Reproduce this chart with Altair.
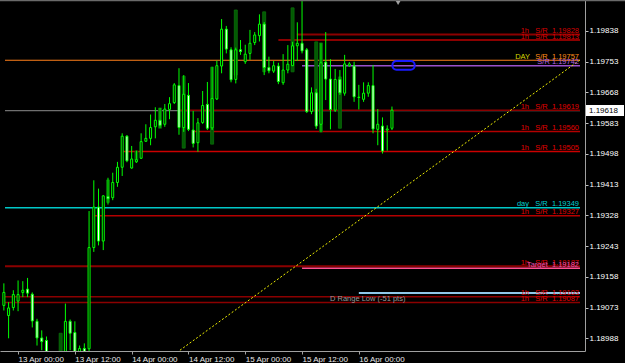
import altair as alt
import pandas as pd

# ---- scale extents (hours since 13 Apr 00:00, price) ----
X_MIN, X_MAX = -2.762, 118.73
Y_MIN, Y_MAX = 1.189529, 1.199237

# ---- hourly candles ----
hours = [-3, -2, -1, 0, 1, 2, 3, 4, 5, 6,
         10, 11, 12, 13, 14, 15, 16, 17, 18, 19,
         20, 21, 22, 23, 24, 25, 26, 27, 28, 29,
         30, 31, 32, 33, 34, 35, 36, 37, 38, 39,
         40, 41, 42, 43, 44, 45, 46, 47, 48, 49,
         50, 51, 52, 53, 54, 55, 56, 57, 58, 59,
         60, 61, 62, 63, 64, 65, 66, 67, 68, 69,
         70, 71, 72, 73, 74, 75, 76, 77, 78, 79]
opens = [1.19079, 1.19051, 1.19073, 1.19091, 1.19115, 1.19124, 1.19110, 1.19035, 1.18989, 1.18982,
         1.18913, 1.19035, 1.19004, 1.18949, 1.18960, 1.18959, 1.19239, 1.19351, 1.19257, 1.19380,
         1.19377, 1.19419, 1.19461, 1.19547, 1.19459, 1.19476, 1.19486, 1.19533, 1.19541, 1.19573,
         1.19591, 1.19580, 1.19621, 1.19640, 1.19687, 1.19571, 1.19660, 1.19564, 1.19529, 1.19585,
         1.19635, 1.19570, 1.19650, 1.19741, 1.19843, 1.19786, 1.19704, 1.19786, 1.19753, 1.19776,
         1.19806, 1.19825, 1.19857, 1.19737, 1.19727, 1.19741, 1.19695, 1.19730, 1.19742, 1.19797,
         1.19804, 1.19786, 1.19615, 1.19667, 1.19580, 1.19752, 1.19705, 1.19619, 1.19704, 1.19666,
         1.19742, 1.19741, 1.19655, 1.19649, 1.19666, 1.19687, 1.19566, 1.19575, 1.19564, 1.19569]
highs = [1.19140, 1.19088, 1.19121, 1.19148, 1.19146, 1.19155, 1.19115, 1.19042, 1.19010, 1.18993,
         1.19084, 1.19040, 1.19035, 1.18968, 1.18974, 1.19340, 1.19425, 1.19402, 1.19384, 1.19432,
         1.19446, 1.19476, 1.19555, 1.19550, 1.19520, 1.19507, 1.19555, 1.19580, 1.19607, 1.19627,
         1.19625, 1.19636, 1.19655, 1.19694, 1.19735, 1.19716, 1.19694, 1.19617, 1.19597, 1.19672,
         1.19697, 1.19739, 1.19756, 1.19871, 1.19852, 1.19793, 1.19792, 1.19813, 1.19800, 1.19841,
         1.19835, 1.19884, 1.19863, 1.19767, 1.19755, 1.19750, 1.19774, 1.19799, 1.19808, 1.19862,
         1.19921, 1.19791, 1.19682, 1.19678, 1.19804, 1.19835, 1.19760, 1.19733, 1.19730, 1.19772,
         1.19752, 1.19753, 1.19689, 1.19696, 1.19696, 1.19744, 1.19622, 1.19599, 1.19577, 1.19629]
lows = [1.19065, 1.18988, 1.19065, 1.19063, 1.19102, 1.19102, 1.19018, 1.18968, 1.18955, 1.18899,
        1.18899, 1.18955, 1.18913, 1.18927, 1.18927, 1.18949, 1.19227, 1.19245, 1.19232, 1.19358,
        1.19370, 1.19407, 1.19437, 1.19475, 1.19457, 1.19473, 1.19484, 1.19531, 1.19522, 1.19541,
        1.19570, 1.19573, 1.19594, 1.19636, 1.19551, 1.19559, 1.19561, 1.19516, 1.19504, 1.19581,
        1.19564, 1.19564, 1.19647, 1.19721, 1.19776, 1.19696, 1.19693, 1.19772, 1.19747, 1.19758,
        1.19799, 1.19809, 1.19716, 1.19721, 1.19722, 1.19691, 1.19689, 1.19721, 1.19741, 1.19755,
        1.19776, 1.19611, 1.19608, 1.19567, 1.19558, 1.19647, 1.19566, 1.19614, 1.19661, 1.19659,
        1.19739, 1.19642, 1.19621, 1.19642, 1.19656, 1.19555, 1.19522, 1.19499, 1.19507, 1.19564]
closes = [1.19115, 1.19072, 1.19109, 1.19109, 1.19121, 1.19113, 1.19036, 1.18989, 1.18979, 1.18927,
          1.19035, 1.19002, 1.18927, 1.18960, 1.18938, 1.19239, 1.19351, 1.19257, 1.19382, 1.19374,
          1.19419, 1.19461, 1.19547, 1.19479, 1.19484, 1.19482, 1.19532, 1.19541, 1.19571, 1.19591,
          1.19577, 1.19622, 1.19637, 1.19689, 1.19571, 1.19663, 1.19566, 1.19527, 1.19584, 1.19632,
          1.19569, 1.19651, 1.19742, 1.19843, 1.19788, 1.19703, 1.19786, 1.19781, 1.19774, 1.19804,
          1.19827, 1.19857, 1.19737, 1.19728, 1.19742, 1.19698, 1.19730, 1.19746, 1.19797, 1.19804,
          1.19783, 1.19615, 1.19667, 1.19575, 1.19750, 1.19705, 1.19621, 1.19704, 1.19667, 1.19747,
          1.19747, 1.19656, 1.19654, 1.19666, 1.19687, 1.19567, 1.19580, 1.19506, 1.19567, 1.19619]

# ---- dark (background) candles ----
dark_hours = [9, 19, 25, 30, 35, 41, 46, 52, 58, 63, 64, 68]
dark_tops = [1.19002, 1.19426, 1.19506, 1.19625, 1.19713, 1.19738, 1.19896, 1.19891, 1.19902, 1.19808, 1.19805, 1.19711]
dark_bottoms = [1.18952, 1.19364, 1.19481, 1.19569, 1.19514, 1.19525, 1.19716, 1.19725, 1.19725, 1.19619, 1.19559, 1.19569]

# ---- horizontal levels ----
level_prices = [1.19828, 1.19813, 1.19757, 1.19742, 1.19618, 1.19619, 1.19560, 1.19505,
                1.19349, 1.19327, 1.19187, 1.19182, 1.19113, 1.19103, 1.19087]
level_starts = [58.9, 55.0, X_MIN, 60.0, X_MIN, 34.0, 37.0, 22.2,
                X_MIN, 15.9, X_MIN, 60.0, 72.0, X_MIN, X_MIN]
level_colors = ['#8b0000', '#8b0000', '#ff7f1a', '#9a50cc', '#707070', '#8b0000', '#b40000', '#cc0000',
                '#00c8c8', '#b40000', '#8b0000', '#ff4f8f', '#8fc8ea', '#8b0000', '#8b0000']
level_widths = [2, 2, 1.2, 1.5, 1.2, 1.5, 1.5, 1.5, 1.5, 1.5, 2, 1.5, 2, 1.5, 1.5]

NB = '\u00a0'
label_prices = [1.19828, 1.19813, 1.19757, 1.19742, 1.19619, 1.19560, 1.19505,
                1.19349, 1.19327, 1.19187, 1.19182, 1.19103, 1.19087]
label_texts = ['1h' + NB * 3 + 'S/R' + NB * 2 + '1.19828',
               '1h' + NB * 3 + 'S/R' + NB * 2 + '1.19813',
               'S/R' + NB * 2 + '1.19757',
               'S/R' + NB + '1.19742',
               '1h' + NB * 3 + 'S/R' + NB * 2 + '1.19619',
               '1h' + NB * 3 + 'S/R' + NB * 2 + '1.19560',
               '1h' + NB * 3 + 'S/R' + NB * 2 + '1.19505',
               'day' + NB * 3 + 'S/R' + NB * 2 + '1.19349',
               '1h' + NB * 3 + 'S/R' + NB * 2 + '1.19327',
               '1h' + NB * 3 + 'S/R' + NB * 2 + '1.19187',
               'Target' + NB * 2 + '1.19182',
               '1h' + NB * 3 + 'S/R' + NB * 2 + '1.19103',
               '1h' + NB * 3 + 'S/R' + NB * 2 + '1.19087']
label_colors = ['#d80000', '#d80000', '#ff8c1a', '#b060e0', '#e00000', '#e00000', '#e00000',
                '#00d0d0', '#e00000', '#e00000', '#e050b0', '#e00000', '#e00000']
day_word = 'DAY'
day_price = 1.19757

range_text = 'D Range Low (-51 pts)'
range_hour = 65.9
range_price = 1.19113

# trend line (two anchor points)
trend_hours = [34.2, X_MAX]
trend_prices = [1.18955, 1.19758]

# blue ellipse object
blue_hours = [79.1, 83.8]
blue_prices = [1.19755, 1.19731]

bid_price = 1.19618
bid_text = '1.19618'
shift_hour = 80.3

tick_hours = [0, 12, 24, 36, 48, 60, 72]
tick_labels = ['13 Apr 00:00', '13 Apr 12:00', '14 Apr 00:00', '14 Apr 12:00',
               '15 Apr 00:00', '15 Apr 12:00', '16 Apr 00:00']
price_ticks = [1.19838, 1.19753, 1.19668, 1.19583, 1.19498, 1.19413, 1.19328,
               1.19243, 1.19158, 1.19073, 1.18988]

# ---------------------------------------------------------------
FONT = 'Liberation Sans'
xs = alt.Scale(domain=[X_MIN, X_MAX], nice=False, zero=False)
ys = alt.Scale(domain=[Y_MIN, Y_MAX], nice=False, zero=False)

label_expr = ('[' + ','.join("'%s'" % t for t in tick_labels) + '][indexof(['
              + ','.join(str(h) for h in tick_hours) + '], datum.value)]')

x_axis = alt.Axis(values=tick_hours, labelExpr=label_expr, title=None, orient='bottom',
                  domainColor='#a0a0a0', tickColor='#a0a0a0', tickSize=3,
                  labelColor='#e8e8e8', labelFont=FONT, labelFontSize=8,
                  labelAlign='left', labelBaseline='top', labelPadding=1,
                  labelFlush=False, labelOverlap=False, grid=False)
y_axis = alt.Axis(orient='right', values=price_ticks, format='.5f', title=None,
                  domainColor='#a0a0a0', tickColor='#c0c0c0', tickSize=3,
                  labelColor='#ffffff', labelFont=FONT, labelFontSize=8,
                  labelPadding=1, labelBaseline='middle', labelFlush=False,
                  labelOverlap=False, grid=False)


def X(field):
    return alt.X(field, scale=xs, axis=x_axis)


def Y(field):
    return alt.Y(field, scale=ys, axis=y_axis)


candles = pd.DataFrame({'h': hours, 'open': opens, 'high': highs, 'low': lows, 'close': closes})
candles['top'] = candles[['open', 'close']].max(axis=1)
candles['bot'] = candles[['open', 'close']].min(axis=1)

dark = pd.DataFrame({'h': dark_hours, 'top': dark_tops, 'bot': dark_bottoms})

levels = pd.DataFrame({'price': level_prices, 'start': level_starts, 'end': X_MAX,
                       'color': level_colors, 'w': level_widths})
labels = pd.DataFrame({'price': label_prices, 'text': label_texts, 'color': label_colors, 'xe': X_MAX})
trend = pd.DataFrame({'h': trend_hours, 'p': trend_prices})
blue = pd.DataFrame({'h1': [blue_hours[0]], 'h2': [blue_hours[1]],
                     'p1': [blue_prices[0]], 'p2': [blue_prices[1]]})

lines = alt.Chart(levels).mark_rule(clip=True).encode(
    x=X('start:Q'), x2='end:Q', y=Y('price:Q'),
    color=alt.Color('color:N', scale=None),
    strokeWidth=alt.StrokeWidth('w:Q', scale=None))

dark_bars = alt.Chart(dark).mark_bar(size=3, fill='#035a03', stroke='#0a700a', strokeWidth=0.8, clip=True).encode(
    x=X('h:Q'), y=Y('top:Q'), y2='bot:Q')

wicks = alt.Chart(candles).mark_rule(color='#00ff00', strokeWidth=1, clip=True).encode(
    x=X('h:Q'), y=Y('low:Q'), y2='high:Q')

bodies = alt.Chart(candles).mark_bar(size=2, stroke='#00ff00', strokeWidth=1, clip=True).encode(
    x=X('h:Q'), y=Y('top:Q'), y2='bot:Q',
    fill=alt.condition('datum.close >= datum.open', alt.value('#000000'), alt.value('#ffffff')))

trend_line = alt.Chart(trend).mark_line(color='#f0f000', strokeWidth=1, strokeDash=[2, 2], clip=True).encode(
    x=X('h:Q'), y=Y('p:Q'))

blue_obj = alt.Chart(blue).mark_rect(cornerRadius=4, fillOpacity=0, stroke='#1a1aff', strokeWidth=2, clip=True).encode(
    x=X('h1:Q'), x2='h2:Q', y=Y('p1:Q'), y2='p2:Q')

label_layer = alt.Chart(labels).mark_text(align='right', baseline='alphabetic', dx=-1, dy=-1.5,
                                          font=FONT, fontSize=7.5).encode(
    x=X('xe:Q'), y=Y('price:Q'),
    text='text:N', color=alt.Color('color:N', scale=None))

day_layer = alt.Chart(pd.DataFrame({'xe': [X_MAX], 'price': [day_price], 'text': [day_word]})).mark_text(
    align='right', baseline='alphabetic', dx=-50, dy=-1.5, font=FONT, fontSize=7.5, color='#d8d800').encode(
    x=X('xe:Q'), y=Y('price:Q'), text='text:N')

range_layer = alt.Chart(pd.DataFrame({'h': [range_hour], 'p': [range_price], 'text': [range_text]})).mark_text(
    align='left', baseline='top', dy=1.5, font=FONT, fontSize=7.5, color='#9a9a9a').encode(
    x=X('h:Q'), y=Y('p:Q'), text='text:N')

bid_df = pd.DataFrame({'p': [bid_price], 'text': [bid_text]})
bid_box = alt.Chart(bid_df).transform_calculate(
    pt='datum.p + 0.000150', pb='datum.p - 0.000150').mark_rect(fill='#ffffff').encode(
    x=alt.value(586), x2=alt.value(624),
    y=Y('pt:Q'), y2='pb:Q')
bid_txt = alt.Chart(bid_df).mark_text(align='left', baseline='middle', font=FONT, fontSize=8,
                                      color='#000000').encode(
    x=alt.value(589), y=Y('p:Q'), text='text:N')

top_border = alt.Chart(pd.DataFrame({'a': [0]})).mark_rule(color='#6a6a6a', strokeWidth=1.5).encode(
    x=alt.value(0), x2=alt.value(625), y=alt.value(0.5))

shift_mark = alt.Chart(pd.DataFrame({'h': [shift_hour], 'p': [Y_MAX]})).mark_point(
    shape='triangle-down', filled=True, color='#a0a0a0', size=22, yOffset=3, opacity=1).encode(
    x=X('h:Q'), y=Y('p:Q'))

chart = alt.layer(
    lines, dark_bars, wicks, bodies, trend_line, blue_obj,
    label_layer, day_layer, range_layer, bid_box, bid_txt, top_border, shift_mark
).properties(
    width=585, height=351,
    background='#000000',
    padding={'left': 0, 'top': 0, 'right': 40, 'bottom': 12},
    autosize=alt.AutoSizeParams(type='none')
).configure_view(stroke=None, fill='#000000')

chart.save('out.html', embed_options={'renderer': 'svg', 'actions': False})
